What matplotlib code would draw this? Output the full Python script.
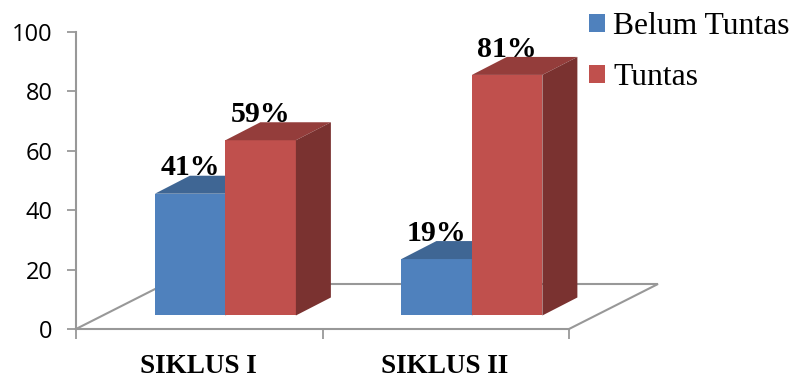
import matplotlib
matplotlib.use("Agg")
import matplotlib.pyplot as plt
from matplotlib.patches import Polygon

categories = ["SIKLUS I", "SIKLUS II"]
series_names = ["Belum Tuntas", "Tuntas"]
belum_tuntas = [41, 19]
tuntas = [59, 81]
y_ticks = [0, 20, 40, 60, 80, 100]

BLUE = ("#4F81BD", "#3F6694", "#3A5F8A")
RED = ("#C0504D", "#943D3B", "#7A3230")
GREY = "#989898"
BAR_W = 0.286
BAR_X0 = 0.32        # left edge of the first bar inside a category slot
DEPTH_X, DEPTH_Y = 0.142, 6.06
FLOOR_X, FLOOR_Y = 0.361, 15.15
BAR_BASE = 4.55

W, H = 792, 379
fig = plt.figure(figsize=(W / 100, H / 100), dpi=100, facecolor="white")
ax = fig.add_axes([76 / W, (H - 329) / H, (569 - 76) / W, (329 - 32) / H])
ax.set_xlim(0, 2)
ax.set_ylim(0, 100)
ax.patch.set_visible(False)

for side in ("top", "right"):
    ax.spines[side].set_visible(False)
for side in ("left", "bottom"):
    ax.spines[side].set_color(GREY)
    ax.spines[side].set_linewidth(1.5)
ax.spines["left"].set_zorder(1)

ax.set_yticks(y_ticks)
ax.tick_params(axis="y", length=6.5, width=1.3, color=GREY, labelsize=17, pad=10.5)
for lab in ax.get_yticklabels():
    lab.set_fontfamily("Open Sans")
ax.set_xticks([0, 1, 2])
ax.set_xticklabels([])
ax.tick_params(axis="x", length=7, width=1.3, color=GREY)

# Floor of the 3D plot area
ax.plot([0, FLOOR_X, 2 + FLOOR_X, 2], [0, FLOOR_Y, FLOOR_Y, 0],
        color=GREY, lw=1.5, clip_on=False, zorder=1, solid_joinstyle="miter")


def draw_series(values, offset, colours, zorder):
    xs = [i + BAR_X0 + offset for i in range(len(values))]
    ax.bar(xs, values, width=BAR_W, bottom=BAR_BASE, align="edge",
           color=colours[0], zorder=zorder, clip_on=False)
    for x, v in zip(xs, values):
        top = BAR_BASE + v
        ax.add_patch(Polygon([(x, top), (x + BAR_W, top),
                              (x + BAR_W + DEPTH_X, top + DEPTH_Y),
                              (x + DEPTH_X, top + DEPTH_Y)],
                             closed=True, fc=colours[1], ec="none",
                             zorder=zorder, clip_on=False))
        ax.add_patch(Polygon([(x + BAR_W, BAR_BASE), (x + BAR_W + DEPTH_X, BAR_BASE + DEPTH_Y),
                              (x + BAR_W + DEPTH_X, top + DEPTH_Y), (x + BAR_W, top)],
                             closed=True, fc=colours[2], ec="none",
                             zorder=zorder, clip_on=False))
        # Value label sits behind the bar's top face
        ax.text(x + BAR_W / 2, top + DEPTH_Y + 0.1, f"{v}%", ha="center", va="baseline",
                family="Liberation Serif", weight="bold", fontsize=21.5,
                color="black", zorder=zorder - 0.5, clip_on=False)


draw_series(belum_tuntas, 0.0, BLUE, 3)
draw_series(tuntas, BAR_W, RED, 4)

# Category names centred under the slots
for i, name in enumerate(categories):
    ax.text(i + 0.5 - 0.004, -14.9, name, ha="center", va="baseline",
            family="Liberation Serif", weight="bold", fontsize=19.5, color="black",
            clip_on=False)

handles = [plt.Rectangle((0, 0), 1, 1, fc=BLUE[0]), plt.Rectangle((0, 0), 1, 1, fc=RED[0])]
fig.legend(handles, series_names, loc="upper left", bbox_to_anchor=(589 / W, 1 - 12 / H),
           frameon=False, borderpad=0, borderaxespad=0, handlelength=0.5, handleheight=0.5,
           handletextpad=0.27, labelspacing=0.71,
           prop={"family": "Liberation Serif", "size": 22.8})

fig.savefig("out.png", dpi=100)
